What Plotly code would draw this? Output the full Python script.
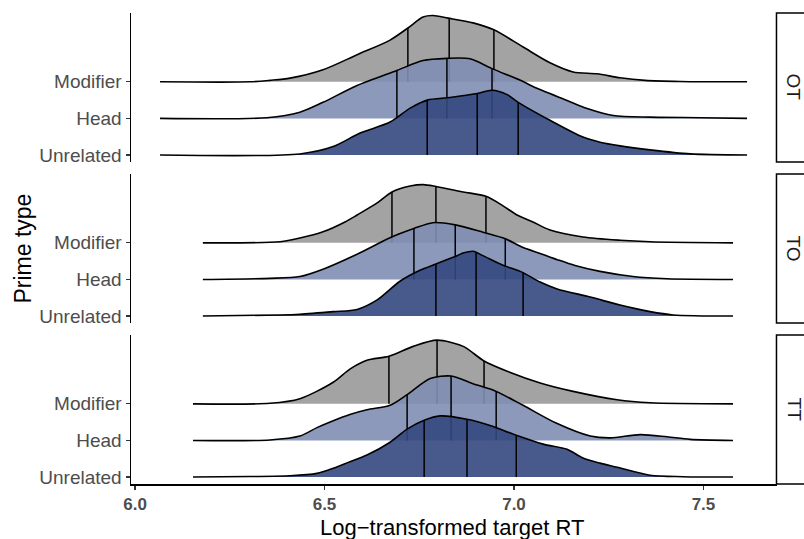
import numpy as np
import plotly.graph_objects as go

# ---------------- data ----------------
panels = ["OT", "TO", "TT"]
prime_types = ["Unrelated", "Head", "Modifier"]       # bottom -> top
x_ticks = [6.0, 6.5, 7.0, 7.5]
x_tick_labels = ["6.0", "6.5", "7.0", "7.5"]

# density curves (x = log RT, h = scaled density in row units)
ot_mod_x = [6.066, 6.304, 6.356, 6.409, 6.496, 6.586, 6.673, 6.720, 6.760, 6.786, 6.826, 6.892, 6.947, 7.024, 7.095, 7.156, 7.219, 7.280, 7.346, 7.438, 7.615]
ot_mod_h = [0, 0, 0.04, 0.10, 0.33, 0.74, 1.14, 1.47, 1.77, 1.81, 1.74, 1.61, 1.42, 0.95, 0.52, 0.27, 0.22, 0.11, 0.04, 0.01, 0]
ot_mod_q = [6.720, 6.829, 6.947]

ot_head_x = [6.066, 6.348, 6.435, 6.496, 6.586, 6.691, 6.760, 6.823, 6.884, 6.942, 7.024, 7.050, 7.140, 7.193, 7.262, 7.359, 7.491, 7.615]
ot_head_h = [0, 0.02, 0.17, 0.44, 0.90, 1.31, 1.58, 1.64, 1.63, 1.36, 1.01, 0.87, 0.49, 0.27, 0.08, 0.035, 0.02, 0]
ot_head_q = [6.691, 6.823, 6.942]

ot_unr_x = [6.066, 6.435, 6.523, 6.594, 6.673, 6.726, 6.771, 6.831, 6.903, 6.942, 6.982, 7.011, 7.095, 7.182, 7.227, 7.280, 7.359, 7.465, 7.615]
ot_unr_h = [0, 0.03, 0.23, 0.60, 0.90, 1.28, 1.50, 1.57, 1.68, 1.77, 1.65, 1.44, 0.95, 0.49, 0.35, 0.25, 0.14, 0.03, 0]
ot_unr_q = [6.771, 6.903, 7.011]

to_mod_x = [6.179, 6.383, 6.435, 6.496, 6.554, 6.586, 6.639, 6.678, 6.726, 6.760, 6.794, 6.866, 6.926, 6.971, 7.008, 7.050, 7.095, 7.182, 7.280, 7.359, 7.578]
to_mod_h = [0, 0.03, 0.13, 0.30, 0.57, 0.76, 1.09, 1.39, 1.55, 1.59, 1.54, 1.39, 1.27, 1.01, 0.76, 0.57, 0.35, 0.16, 0.07, 0.03, 0]
to_mod_q = [6.678, 6.794, 6.926]

to_head_x = [6.179, 6.356, 6.435, 6.496, 6.586, 6.673, 6.736, 6.786, 6.845, 6.918, 6.977, 7.024, 7.069, 7.114, 7.161, 7.227, 7.314, 7.404, 7.578]
to_head_h = [0, 0.03, 0.08, 0.28, 0.69, 1.14, 1.39, 1.55, 1.49, 1.29, 1.11, 0.87, 0.71, 0.54, 0.38, 0.22, 0.08, 0.02, 0]
to_head_q = [6.736, 6.845, 6.977]

to_unr_x = [6.179, 6.383, 6.435, 6.523, 6.586, 6.639, 6.699, 6.752, 6.794, 6.850, 6.866, 6.892, 6.918, 6.971, 7.021, 7.069, 7.114, 7.201, 7.280, 7.359, 7.420, 7.578]
to_unr_h = [0, 0.03, 0.05, 0.12, 0.18, 0.44, 0.95, 1.25, 1.42, 1.65, 1.72, 1.77, 1.65, 1.39, 1.20, 0.93, 0.74, 0.52, 0.30, 0.12, 0.03, 0]
to_unr_q = [6.794, 6.900, 7.024]

tt_mod_x = [6.153, 6.356, 6.435, 6.523, 6.567, 6.612, 6.670, 6.734, 6.797, 6.866, 6.921, 6.982, 7.069, 7.156, 7.272, 7.359, 7.578]
tt_mod_h = [0, 0.014, 0.14, 0.59, 0.95, 1.19, 1.30, 1.57, 1.74, 1.57, 1.17, 0.89, 0.57, 0.34, 0.11, 0.03, 0]
tt_mod_q = [6.670, 6.797, 6.921]

tt_head_x = [6.153, 6.356, 6.435, 6.480, 6.523, 6.567, 6.612, 6.673, 6.718, 6.779, 6.834, 6.892, 6.953, 7.024, 7.114, 7.201, 7.254, 7.333, 7.404, 7.465, 7.578]
tt_head_h = [0, 0.014, 0.12, 0.35, 0.54, 0.71, 0.84, 0.96, 1.25, 1.69, 1.76, 1.55, 1.34, 0.96, 0.46, 0.12, 0.07, 0.16, 0.10, 0.03, 0]
tt_head_q = [6.718, 6.834, 6.953]

tt_unr_x = [6.153, 6.304, 6.409, 6.480, 6.523, 6.567, 6.612, 6.673, 6.718, 6.763, 6.805, 6.876, 6.937, 7.006, 7.077, 7.140, 7.182, 7.227, 7.272, 7.359, 7.446, 7.578]
tt_unr_h = [0, 0.014, 0.035, 0.10, 0.24, 0.42, 0.60, 0.95, 1.31, 1.55, 1.67, 1.58, 1.41, 1.14, 0.90, 0.76, 0.52, 0.38, 0.27, 0.05, 0.01, 0]
tt_unr_q = [6.763, 6.876, 7.006]

curves = {
    "OT": {"Modifier": (ot_mod_x, ot_mod_h, ot_mod_q),
           "Head": (ot_head_x, ot_head_h, ot_head_q),
           "Unrelated": (ot_unr_x, ot_unr_h, ot_unr_q)},
    "TO": {"Modifier": (to_mod_x, to_mod_h, to_mod_q),
           "Head": (to_head_x, to_head_h, to_head_q),
           "Unrelated": (to_unr_x, to_unr_h, to_unr_q)},
    "TT": {"Modifier": (tt_mod_x, tt_mod_h, tt_mod_q),
           "Head": (tt_head_x, tt_head_h, tt_head_q),
           "Unrelated": (tt_unr_x, tt_unr_h, tt_unr_q)},
}

# ---------------- style ----------------
FONT = "Liberation Sans, Arial, Helvetica, sans-serif"
fills = {"Modifier": "rgba(153,153,153,0.9)",
         "Head": "rgba(128,142,178,0.9)",
         "Unrelated": "rgba(52,72,128,0.9)"}
domains = [[0.6837, 1.0], [0.3418, 0.6582], [0.0, 0.3163]]
x_range = [5.9894, 7.694]
y_range = [0.81, 4.88]

fig = go.Figure()

for i, panel in enumerate(panels):
    xa = "x" if i == 0 else f"x{i+1}"
    ya = "y" if i == 0 else f"y{i+1}"
    for name in ["Modifier", "Head", "Unrelated"]:
        xs, hs, qs = curves[panel][name]
        base = prime_types.index(name) + 1
        xs = np.array(xs, dtype=float)
        hs = np.array(hs, dtype=float)
        fig.add_trace(go.Scatter(x=[xs[0], xs[-1]], y=[base, base], mode="lines",
                                 line=dict(width=0, color="rgba(0,0,0,0)"),
                                 hoverinfo="skip", showlegend=False, xaxis=xa, yaxis=ya))
        fig.add_trace(go.Scatter(x=xs, y=base + hs, mode="lines",
                                 line=dict(color="black", width=1.6, shape="spline", smoothing=0.8),
                                 fill="tonexty", fillcolor=fills[name],
                                 hoverinfo="skip", showlegend=False, xaxis=xa, yaxis=ya))
        qx, qy = [], []
        for q in qs:
            top = base + float(np.interp(q, xs, hs))
            qx += [q, q, None]
            qy += [base, top, None]
        fig.add_trace(go.Scatter(x=qx, y=qy, mode="lines",
                                 line=dict(color="black", width=1.5),
                                 hoverinfo="skip", showlegend=False, xaxis=xa, yaxis=ya))

layout = dict(
    width=804, height=539,
    margin=dict(l=131, r=27, t=13, b=55),
    paper_bgcolor="white", plot_bgcolor="white",
    font=dict(family=FONT, color="black"),
    showlegend=False,
)

for i in range(3):
    xk = "xaxis" if i == 0 else f"xaxis{i+1}"
    yk = "yaxis" if i == 0 else f"yaxis{i+1}"
    ya = "y" if i == 0 else f"y{i+1}"
    xa = "x" if i == 0 else f"x{i+1}"
    bottom = (i == 2)
    layout[xk] = dict(domain=[0, 1], anchor=ya, range=x_range, showgrid=False, zeroline=False,
                      showline=bottom, linecolor="black", linewidth=1.5,
                      ticks="outside" if bottom else "", ticklen=4, tickwidth=1.2, tickcolor="#333333",
                      tickvals=x_ticks, ticktext=x_tick_labels, showticklabels=bottom,
                      tickfont=dict(family=FONT, size=17, color="#4D4D4D", weight="bold"),
                      fixedrange=True)
    layout[yk] = dict(domain=domains[i], anchor=xa, range=y_range, showgrid=False, zeroline=False,
                      showline=True, linecolor="black", linewidth=1.5,
                      ticks="outside", ticklen=4, tickwidth=1.2, tickcolor="#333333",
                      tickvals=[1, 2, 3], ticktext=prime_types,
                      tickfont=dict(family=FONT, size=19, color="#4D4D4D"),
                      fixedrange=True)

fig.update_layout(**layout)

shapes = []
annotations = []
for i, panel in enumerate(panels):
    d0, d1 = domains[i]
    shapes.append(dict(type="rect", xref="paper", yref="paper", x0=0.9992, x1=1.08, y0=d0, y1=d1,
                       line=dict(color="black", width=1.5), fillcolor="white", layer="above"))
    annotations.append(dict(text=panel, xref="paper", yref="paper", x=1.0263, y=(d0 + d1) / 2,
                            showarrow=False, textangle=90, xanchor="center", yanchor="middle",
                            font=dict(family=FONT, size=19, color="#1A1A1A")))

annotations.append(dict(text="Prime type", xref="paper", yref="paper", x=-0.1687, y=0.5,
                        showarrow=False, textangle=-90, xanchor="center", yanchor="middle",
                        font=dict(family=FONT, size=23, color="black")))
annotations.append(dict(text="Log\u2212transformed target RT", xref="paper", yref="paper", x=0.4969, y=-0.092,
                        showarrow=False, xanchor="center", yanchor="middle",
                        font=dict(family=FONT, size=22, color="black")))

fig.update_layout(shapes=shapes, annotations=annotations)
# remove default page margin so the 804x539 figure fills the window exactly
fig.write_html("out.html",
               config={"displayModeBar": False, "staticPlot": True},
               post_script="document.body.style.margin='0';document.body.style.overflow='hidden';")
